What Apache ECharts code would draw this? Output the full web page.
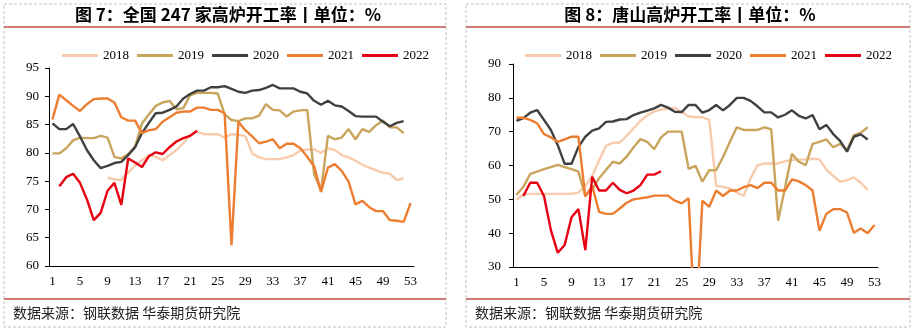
<!DOCTYPE html>
<html><head><meta charset="utf-8">
<script src="https://cdn.jsdelivr.net/npm/echarts@6/dist/echarts.min.js"></script>
<style>html,body{margin:0;padding:0;background:#fff}#c{width:914px;height:331px}</style>
</head><body><div id="c"></div>
<script>
var weeks = [1,2,3,4,5,6,7,8,9,10,11,12,13,14,15,16,17,18,19,20,21,22,23,24,25,26,27,28,29,30,31,32,33,34,35,36,37,38,39,40,41,42,43,44,45,46,47,48,49,50,51,52,53];
var seriesNames = ['2018','2019','2020','2021','2022'];

// 图7 全国247家高炉开工率
var nat2018 = [null,null,null,null,null,null,null,null,75.6,75.3,75.2,76.5,77.8,78.7,79.6,79.3,78.7,79.6,80.5,81.7,83.2,83.7,83.3,83.3,83.3,82.7,83.3,83.2,83.0,79.9,79.2,78.9,78.9,78.9,79.2,79.6,80.4,80.6,80.6,80.0,80.8,80.5,79.6,79.2,78.6,77.9,77.4,76.9,76.5,76.3,75.2,75.5,null];
var nat2019 = [79.9,79.9,80.8,82.2,82.7,82.6,82.6,83.0,82.7,79.3,79.0,79.8,81.1,85.2,86.8,88.3,88.9,89.2,87.7,87.9,90.2,90.6,90.6,90.6,90.5,86.8,85.8,85.6,86.1,86.1,86.6,88.6,87.6,87.5,86.4,87.3,87.5,87.6,76.2,73.4,83.0,82.4,82.7,84.2,82.4,84.2,83.7,84.9,85.7,84.5,84.5,83.5,null];
var nat2020 = [85.2,84.2,84.2,85.1,82.9,80.5,78.7,77.3,77.7,78.2,78.4,79.6,81.0,83.5,85.3,87.0,87.1,87.6,88.2,89.6,90.4,91.0,91.0,91.6,91.6,91.8,91.3,90.8,90.6,91.0,91.1,91.5,92.0,91.4,91.4,91.4,90.8,90.5,89.2,88.5,89.2,88.4,88.2,87.4,86.5,86.4,86.4,86.4,85.5,84.7,85.3,85.6,null];
var nat2021 = [85.9,90.3,89.3,88.3,87.4,88.6,89.5,89.6,89.6,88.9,86.3,85.7,85.7,83.5,84.0,84.2,85.5,86.3,87.1,87.3,87.3,88.0,88.0,87.6,87.6,87.0,63.7,85.5,84.0,82.9,81.7,82.0,82.4,80.8,81.6,81.6,80.8,79.3,77.6,73.1,77.4,78.0,76.8,74.9,70.9,71.5,70.4,69.7,69.7,68.1,68.0,67.8,71.1];
var nat2022 = [null,74.1,75.7,76.3,74.7,71.8,68.1,69.4,73.3,74.7,70.8,79.0,78.3,77.5,79.4,80.1,79.8,81.0,82.0,82.6,83.0,83.9];

// 图8 唐山高炉开工率
var ts2018 = [49.8,51.5,51.6,51.6,51.6,51.6,51.6,51.6,51.6,52.0,54.0,57.0,61.5,65.8,66.7,66.8,68.7,71.0,73.2,74.8,76.0,76.5,76.8,77.0,75.8,74.5,74.3,74.3,73.5,54.0,53.7,53.2,52.0,51.0,56.2,60.1,60.6,60.6,60.6,61.2,61.7,61.7,61.8,62.0,61.8,58.8,56.9,55.2,55.7,56.5,54.9,52.8,null];
var ts2019 = [51.3,53.7,57.5,58.2,58.9,59.5,60.2,59.5,58.9,58.2,51.0,53.0,56.2,58.7,61.1,60.6,62.6,65.4,67.8,67.0,64.8,68.3,70.0,70.0,70.0,59.0,59.9,55.2,58.6,58.6,62.5,67.0,71.3,70.5,70.5,70.5,71.3,70.7,43.7,53.5,63.5,61.1,60.1,66.4,67.0,67.7,65.4,66.4,64.6,69.0,69.7,71.3,null];
var ts2020 = [73.2,74.0,75.6,76.4,73.5,70.5,66.0,60.5,60.5,65.5,68.5,70.3,71.0,72.9,73.0,73.6,73.7,74.9,75.6,76.2,76.9,77.9,77.1,75.9,75.8,77.9,77.9,75.6,76.4,77.9,76.3,77.9,80.0,80.0,79.1,77.5,75.7,75.7,74.2,75.0,76.3,74.7,73.9,74.9,70.7,72.0,69.3,67.3,64.1,68.5,69.2,67.7,null];
var ts2021 = [74.1,74.1,73.5,72.5,69.3,68.3,67.0,67.7,68.5,68.5,50.8,54.0,46.3,45.7,45.7,47.3,49.0,50.0,50.3,50.6,51.1,51.1,51.1,49.6,48.8,50.3,10,49.6,47.8,52.6,51.0,52.6,52.6,53.6,54.2,53.3,54.9,54.9,52.6,52.6,55.9,55.3,54.2,52.6,40.7,45.7,47.1,47.1,46.1,40.1,41.4,40.0,42.4];
var ts2022 = [null,51.0,54.9,54.9,51.0,40.9,34.2,36.5,44.7,47.1,35.0,56.7,52.6,52.6,54.9,52.8,51.8,52.6,54.2,57.3,57.3,58.3];

var titles = ['图 7：全国 247 家高炉开工率丨单位：%', '图 8：唐山高炉开工率丨单位：%'];
var sourceText = '数据来源：钢联数据 华泰期货研究院';

var colors = ['#F8CBAD','#C9A45C','#404040','#ED7D31','#E60012'];
var serif = '"Liberation Serif","Times New Roman",serif';
var cjk = '"Noto Sans CJK SC","Noto Sans",sans-serif';

var chart = echarts.init(document.getElementById('c'), null, {renderer:'canvas'});

function xAxis(gi){
  return {gridIndex:gi,type:'category',data:weeks,boundaryGap:true,
    axisLine:{lineStyle:{color:'#000',width:1}},
    axisTick:{interval:3,length:5,lineStyle:{color:'#000'}},
    axisLabel:{interval:3,color:'#000',fontFamily:serif,fontSize:13,margin:9},
    splitLine:{show:false}};
}
function yAxis(gi,min,max,iv,m){
  return {gridIndex:gi,type:'value',min:min,max:max,interval:iv,
    axisLine:{show:true,lineStyle:{color:'#000',width:1}},
    axisTick:{show:true,length:4,lineStyle:{color:'#000'}},
    axisLabel:{color:'#000',fontFamily:serif,fontSize:13,margin:m},
    splitLine:{show:false}};
}
function mk(name,data,idx,gi){
  return {name:name,type:'line',xAxisIndex:gi,yAxisIndex:gi,data:data,symbol:'none',
    connectNulls:false,clip:true,lineStyle:{width:2.4,color:colors[idx]},itemStyle:{color:colors[idx]},z:2+idx};
}
function legend(cx){
  return {data:seriesNames,left:cx,top:44,icon:'rect',itemWidth:36,itemHeight:3,itemGap:8,
    textStyle:{fontFamily:serif,fontSize:13,color:'#000',padding:[0,0,0,0]},selectedMode:false};
}
var natData=[nat2018,nat2019,nat2020,nat2021,nat2022];
var tsData=[ts2018,ts2019,ts2020,ts2021,ts2022];
var series=[];
seriesNames.forEach(function(n,i){series.push(mk(n,natData[i],i,0));});
seriesNames.forEach(function(n,i){series.push(mk(n,tsData[i],i,1));});

var dash={stroke:'#BFBFBF',lineWidth:1,lineDash:[3,2],fill:null};
var red={stroke:'#C0504D',lineWidth:1.5};
function panelGraphics(x0,x1,cx,title){
  return [
    {type:'rect',shape:{x:x0,y:4,width:x1-x0,height:323},style:dash,silent:true},
    {type:'line',shape:{x1:x0,y1:27,x2:x1,y2:27},style:red,silent:true},
    {type:'line',shape:{x1:x0,y1:299,x2:x1,y2:299},style:red,silent:true},
    {type:'text',x:cx,y:15,style:{text:title,fill:'#000',font:'bold 17px '+cjk,textAlign:'center',textVerticalAlign:'middle'},silent:true},
    {type:'text',x:x0+9,y:313,style:{text:sourceText,fill:'#222',font:'14px '+cjk,textAlign:'left',textVerticalAlign:'middle'},silent:true}
  ];
}

chart.setOption({
  animation:false,
  grid:[{left:49,top:68,width:365,height:198},{left:513,top:64,width:365,height:203}],
  xAxis:[xAxis(0),xAxis(1)],
  yAxis:[yAxis(0,60,95,5,10),yAxis(1,30,90,10,12)],
  legend:[legend(57),legend(520)],
  series:series,
  graphic:panelGraphics(4,446,228,titles[0]).concat(panelGraphics(466,910,690,titles[1]))
});
</script></body></html>
